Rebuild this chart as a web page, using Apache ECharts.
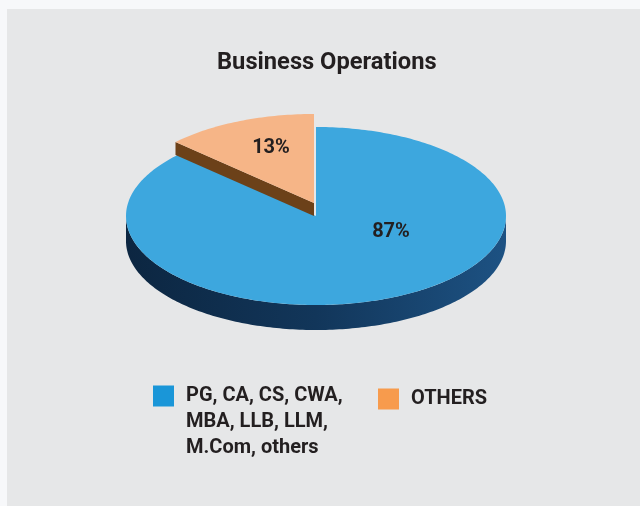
<!DOCTYPE html>
<html><head><meta charset="utf-8">
<script src="https://cdn.jsdelivr.net/npm/echarts@6/dist/echarts.min.js"></script>
<style>
html,body{margin:0;padding:0;background:#f7f8fa;width:640px;height:506px;overflow:hidden}
#panel{position:absolute;left:7px;top:9px;width:633px;height:497px;background:#e6e7e8}
#chart{position:absolute;left:0;top:0;width:640px;height:506px}
</style></head><body>
<div id="panel"></div><div id="chart"></div>
<script>
// ---- data ----
const categories = ['PG, CA, CS, CWA,\nMBA, LLB, LLM,\nM.Com, others', 'OTHERS'];
const shares = [87, 13];
const titleText = 'Business Operations';

// ---- styling / layout ----
const CX = 316, CY = 216, RX = 190, RY = 89;
const depths = [25, 13];
const explode = [[0, 0], [-2, -13]];
const topColors = ['#3da7de', '#f6b587'];
const sideColors = [
  {type: 'linear', x: 0, y: 0, x2: 1, y2: 0, colorStops: [
    {offset: 0, color: '#0c2641'}, {offset: 0.5, color: '#12365a'}, {offset: 1, color: '#1d5283'}]},
  '#6c4119'
];
const legendColors = ['#1a96d8', '#f79b4d'];
const labelOffsets = [[75, 16], [-43, -55]];
const FONT = 'Roboto, "Liberation Sans", sans-serif';

const total = shares.reduce((a, b) => a + b, 0);
const rad = d => d * Math.PI / 180;

function sliceAngles(i) {
  let before = 0;
  for (let k = 0; k < i; k++) before += shares[k];
  const start = 90 - before * 360 / total;
  const end = start - shares[i] * 360 / total;
  return [end, start]; // [lo, hi] counter-clockwise
}

function makeRender(i) {
  return function (params, api) {
    const [lo, hi] = sliceAngles(i);
    const [ox, oy] = explode[i];
    const d = depths[i];
    const pt = (a, dz) => [CX + RX * Math.cos(rad(a)) + ox, CY - RY * Math.sin(rad(a)) + oy + (dz || 0)];
    const arc = (a0, a1, dz) => {
      const pts = [];
      const n = Math.max(2, Math.ceil(Math.abs(a1 - a0)));
      for (let k = 0; k <= n; k++) pts.push(pt(a0 + (a1 - a0) * k / n, dz));
      return pts;
    };
    const c = [CX + ox, CY + oy];
    const children = [];
    const radial = (a) => ({
      type: 'polygon',
      shape: {points: [c, pt(a), pt(a, d), [c[0], c[1] + d]]},
      style: {fill: sideColors[i]}
    });
    if (Math.cos(rad(lo)) > 1e-6) children.push(radial(lo));
    if (Math.cos(rad(hi)) < -1e-6) children.push(radial(hi));
    for (let k = -2; k <= 2; k++) {
      const f0 = 180 + 360 * k, f1 = 360 + 360 * k;
      const a0 = Math.max(lo, f0), a1 = Math.min(hi, f1);
      if (a1 > a0) {
        const topArc = arc(a0, a1, 0);
        const botArc = arc(a1, a0, d);
        children.push({type: 'polygon', shape: {points: topArc.concat(botArc)}, style: {fill: sideColors[i]}});
      }
    }
    children.push({type: 'polygon', shape: {points: [c].concat(arc(lo, hi, 0))}, style: {fill: topColors[i]}});
    children.push({
      type: 'text',
      x: c[0] + labelOffsets[i][0], y: c[1] + labelOffsets[i][1],
      style: {text: api.value(0) + '%', fill: '#231f20', font: 'bold 20px ' + FONT, align: 'center', verticalAlign: 'middle'}
    });
    return {type: 'group', children: children};
  };
}

const series = shares.map((v, i) => ({
  type: 'custom',
  name: categories[i],
  coordinateSystem: 'none',
  itemStyle: {color: legendColors[i]},
  data: [[v]],
  renderItem: makeRender(i),
  silent: true
}));

// first legend: push the multi-line text down so its first line sits beside the square
const topAligned = name => '\n\n' + name;

const chart = echarts.init(document.getElementById('chart'), null, {renderer: 'canvas'});
chart.setOption({
  backgroundColor: 'transparent',
  animation: false,
  title: {
    text: titleText, left: 217, top: 51, padding: 0,
    textStyle: {fontFamily: FONT, fontWeight: 'bold', fontSize: 23.7, color: '#231f20'}
  },
  legend: [
    {
      data: [categories[0]], left: 153, top: 331, padding: 0, formatter: topAligned,
      icon: 'rect', itemWidth: 21, itemHeight: 21, selectedMode: false,
      textStyle: {fontFamily: FONT, fontWeight: 'bold', fontSize: 20, color: '#231f20', lineHeight: 26, padding: [0, 0, 0, 7]}
    },
    {
      data: [categories[1]], left: 378, top: 386, padding: 0,
      icon: 'rect', itemWidth: 21, itemHeight: 21, selectedMode: false,
      textStyle: {fontFamily: FONT, fontWeight: 'bold', fontSize: 20, color: '#231f20', lineHeight: 26, padding: [0, 0, 0, 7]}
    }
  ],
  series: series
});
</script></body></html>
